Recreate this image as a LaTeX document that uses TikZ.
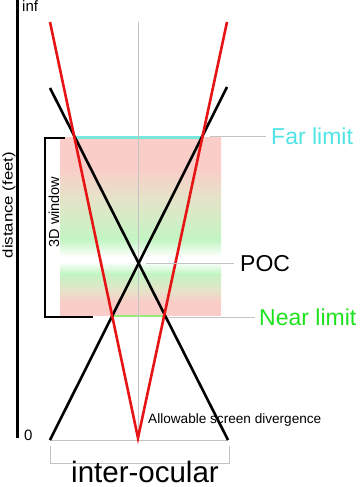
\documentclass[tikz,border=0pt]{standalone}
\usepackage{fontspec}
\setmainfont{Liberation Sans}
\definecolor{redray}{RGB}{230,20,20}
\definecolor{leadgray}{RGB}{195,195,195}
\definecolor{cyantxt}{RGB}{80,228,228}
\definecolor{cyanline}{RGB}{120,232,220}
\definecolor{greentxt}{RGB}{30,225,30}
\definecolor{greenline}{RGB}{150,235,120}
\definecolor{pinkw}{RGB}{250,205,200}
\definecolor{beigew}{RGB}{228,228,200}
\definecolor{greenw}{RGB}{195,245,195}
\begin{document}
\begin{tikzpicture}[x=1pt,y=-1pt,
  lbl/.style={inner sep=0pt, font=\fontsize{23}{23}\selectfont, anchor=base west},
  leader/.style={draw=leadgray, line width=0.9pt},
  ray/.style={line width=2.6pt},
  thickbar/.style={line width=2.6pt, draw=black},
]
\useasboundingbox (0,0) rectangle (360,487);

% shaded 3D window
\shade[top color=pinkw, bottom color=pinkw] (60,137) rectangle (221,168);
\shade[top color=pinkw, bottom color=beigew] (60,167.5) rectangle (221,200);
\shade[top color=beigew, bottom color=greenw] (60,199.5) rectangle (221,240);
\shade[top color=greenw, bottom color=white] (60,239.5) rectangle (221,257);
\fill[white] (60,256.5) rectangle (221,262);
\shade[top color=white, bottom color=greenw] (60,261.5) rectangle (221,274);
\shade[top color=greenw, bottom color=beigew] (60,273.5) rectangle (221,290);
\shade[top color=beigew, bottom color=pinkw] (60,289.5) rectangle (221,302);
\fill[pinkw] (60,301.5) rectangle (221,316);

% coordinates
\coordinate (axtop) at (17,0);
\coordinate (axbot) at (17,438);
\coordinate (rl) at (50,22);
\coordinate (rr) at (227,22);
\coordinate (apex) at (138,438);
\coordinate (bltop) at (50,88);
\coordinate (brtop) at (227,87);
\coordinate (blbot) at (50,440);
\coordinate (brbot) at (228,440);
\coordinate (ctop) at (138,22);
\coordinate (cbot) at (138,440);
\coordinate (farL) at (210,136);
\coordinate (pocL) at (146,263);
\coordinate (nearL) at (168,317);

% limit lines
\draw[cyanline, line width=3pt] (75,137) -- (203,137);
\draw[greenline, line width=2.5pt] (112,316) -- (165,316);

% center and base lines
\draw[leadgray, line width=0.8pt] (ctop) -- (cbot);
\draw[leadgray, line width=0.9pt] (blbot) -- (brbot);
\draw[leadgray, line width=0.9pt] (50.7,446) -- (50.7,463) -- (229,463) -- (229,446);

% axis
\draw[line width=3pt] (axtop) -- (axbot);
\node[inner sep=0pt, anchor=base west, font=\fontsize{15}{15}\selectfont] (inf) at (22,12) {inf};
\node[inner sep=0pt, anchor=base west, font=\fontsize{15}{15}\selectfont] (zero) at (24,440) {0};
\node[inner sep=0pt, rotate=90, font=\fontsize{14}{14}\selectfont, xscale=1.2] (dist) at (9,205) {distance (feet)};

% 3D window bracket
\draw[thickbar] (65,138) -- (45,138) -- (45,317) -- (93,317);
\node[inner sep=0pt, rotate=90, font=\fontsize{14.5}{14.5}\selectfont] (win) at (54,212) {3D window};

% rays
\draw[ray] (bltop) -- (brbot);
\draw[ray] (brtop) -- (blbot);
\draw[ray, redray] (rl) -- (apex) -- (rr);

% labels
\node[lbl, text=cyantxt] (far) at (271,144.5) {Far limit};
\node[lbl] (poc) at (240,271.3) {POC};
\node[lbl, text=greentxt] (near) at (259,325.3) {Near limit};
\draw[leader] (farL) -- ([xshift=-5pt]far.west |- farL);
\draw[leader] (pocL) -- ([xshift=-6pt]poc.west |- pocL);
\draw[leader] (nearL) -- ([xshift=-4pt]near.west |- nearL);

\node[inner sep=0pt, anchor=base west, font=\fontsize{13.6}{14}\selectfont] (div) at (148,423) {Allowable screen divergence};
\node[inner sep=0pt, anchor=base, font=\fontsize{29.5}{30}\selectfont] (io) at (145,482) {inter-ocular};
\end{tikzpicture}
\end{document}
